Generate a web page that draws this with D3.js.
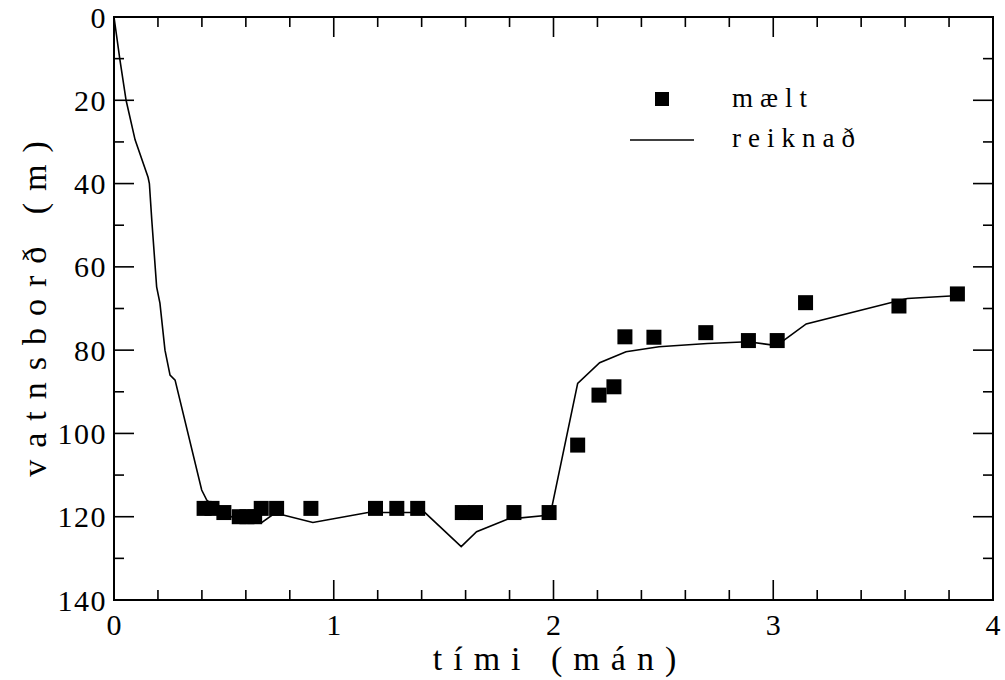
<!DOCTYPE html>
<html>
<head>
<meta charset="utf-8">
<script src="https://cdn.jsdelivr.net/npm/d3@7"></script>
<style>
  body { margin: 0; background: #fff; }
  text { font-family: "Liberation Serif", "DejaVu Serif", serif; fill: #000; }
</style>
</head>
<body>
<svg id="chart" width="1005" height="680"></svg>
<script>
// maelt (measured)
var measX = [0.41, 0.446, 0.50, 0.57, 0.605, 0.64, 0.67, 0.74, 0.896, 1.19, 1.287, 1.382,
             1.585, 1.645, 1.82, 1.98, 2.11, 2.207, 2.275, 2.325, 2.457, 2.693, 2.887, 3.018,
             3.147, 3.572, 3.838];
var measY = [118, 118, 119, 120, 120, 120, 118, 118, 118, 118, 118, 118,
             119, 119, 119, 119, 102.8, 90.8, 88.8, 76.8, 76.9, 75.8, 77.7, 77.7,
             68.6, 69.4, 66.5];

// reiknad (calculated)
var calcX = [0, 0.027, 0.055, 0.096, 0.155, 0.161, 0.172, 0.194, 0.209, 0.232, 0.255, 0.278,
             0.399, 0.422, 0.5, 0.6, 0.67, 0.72, 0.77, 0.905, 1.156, 1.415, 1.58, 1.65,
             1.79, 1.985, 2.11, 2.21, 2.33, 2.48, 2.70, 2.885, 3.015, 3.15, 3.61, 3.865];
var calcY = [0, 10.3, 20, 29.5, 38.5, 40, 48.8, 64.8, 68.7, 80, 86, 87.2,
             113.6, 116, 119.5, 121, 121.5, 119.6, 119.6, 121.4, 119, 119, 127.2, 123.6,
             120.6, 119.6, 88, 83, 80.4, 79.2, 78.4, 78, 78.9, 73.7, 67.6, 66.8];

var xTicks = [0, 1, 2, 3, 4];
var yTicks = [0, 20, 40, 60, 80, 100, 120, 140];
var legendLabels = ["mælt", "reiknað"];

var svg = d3.select("#chart");
var pL = 114, pR = 993, pT = 17, pB = 600;

var x = d3.scaleLinear().domain([0, 4]).range([pL, pR]);
var y = d3.scaleLinear().domain([0, 140]).range([pT, pB]);

// frame
svg.append("rect")
    .attr("x", pL).attr("y", pT)
    .attr("width", pR - pL).attr("height", pB - pT)
    .attr("fill", "none").attr("stroke", "#000").attr("stroke-width", 2);

// ticks, inward on all four sides
var xMinor = d3.range(0, 4.0001, 0.2);
var yMinor = d3.range(0, 140.0001, 10);
var tickG = svg.append("g").attr("stroke", "#000").attr("stroke-width", 1.6);

xMinor.forEach(function(v) {
  var major = Math.abs(v - Math.round(v)) < 1e-6;
  var len = major ? 20 : 10;
  tickG.append("line").attr("x1", x(v)).attr("x2", x(v)).attr("y1", pB).attr("y2", pB - len);
  tickG.append("line").attr("x1", x(v)).attr("x2", x(v)).attr("y1", pT).attr("y2", pT + len);
});
yMinor.forEach(function(v) {
  var len = (Math.round(v) % 20 === 0) ? 20 : 10;
  tickG.append("line").attr("x1", pL).attr("x2", pL + len).attr("y1", y(v)).attr("y2", y(v));
  tickG.append("line").attr("x1", pR).attr("x2", pR - len).attr("y1", y(v)).attr("y2", y(v));
});

// tick labels
svg.append("g").selectAll("text")
    .data(xTicks).enter().append("text")
    .attr("x", function(d) { return x(d); })
    .attr("y", 635)
    .attr("text-anchor", "middle")
    .style("font-size", "30px")
    .text(function(d) { return d; });

svg.append("g").selectAll("text")
    .data(yTicks).enter().append("text")
    .attr("x", 107)
    .attr("y", function(d) { return y(d); })
    .attr("dy", "0.35em")
    .attr("text-anchor", "end")
    .style("font-size", "30px")
    .style("letter-spacing", "1.5px")
    .text(function(d) { return d; });

// axis titles
svg.append("text")
    .attr("x", 560).attr("y", 670)
    .attr("text-anchor", "middle")
    .style("font-size", "34px")
    .style("letter-spacing", "11px")
    .text("tími (mán)");

svg.append("text")
    .attr("transform", "translate(46,303) rotate(-90)")
    .attr("text-anchor", "middle")
    .style("font-size", "34px")
    .style("letter-spacing", "12px")
    .text("vatnsborð (m)");

// calculated line
var line = d3.line()
    .x(function(d, i) { return x(calcX[i]); })
    .y(function(d, i) { return y(calcY[i]); });

svg.append("path")
    .datum(calcX)
    .attr("d", line)
    .attr("fill", "none")
    .attr("stroke", "#000")
    .attr("stroke-width", 1.6);

// measured squares
var sz = 15;
svg.append("g").selectAll("rect")
    .data(measX).enter().append("rect")
    .attr("x", function(d) { return x(d) - sz / 2; })
    .attr("y", function(d, i) { return y(measY[i]) - sz / 2; })
    .attr("width", sz).attr("height", sz)
    .attr("fill", "#000");

// legend
svg.append("rect")
    .attr("x", 662 - 7).attr("y", 99 - 7)
    .attr("width", 14).attr("height", 14)
    .attr("fill", "#000");
svg.append("line")
    .attr("x1", 630).attr("x2", 694).attr("y1", 140).attr("y2", 140)
    .attr("stroke", "#000").attr("stroke-width", 1.4);

svg.append("g").selectAll("text")
    .data(legendLabels).enter().append("text")
    .attr("x", 732)
    .attr("y", function(d, i) { return 107 + i * 40; })
    .style("font-size", "27px")
    .style("letter-spacing", "7px")
    .text(function(d) { return d; });
</script>
</body>
</html>
